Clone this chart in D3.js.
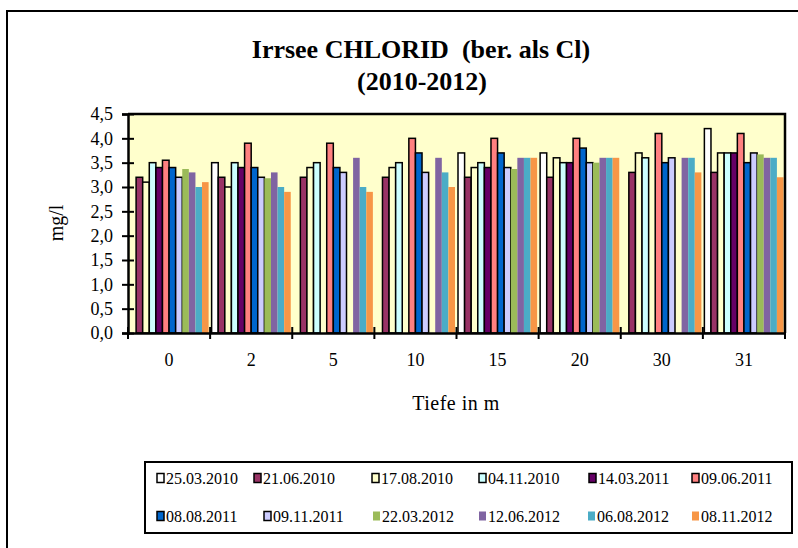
<!DOCTYPE html>
<html>
<head>
<meta charset="utf-8">
<script src="https://cdn.jsdelivr.net/npm/d3@7"></script>
<style>
  body { margin: 0; background: #fff; }
  text { font-family: "Liberation Serif", "Times New Roman", serif; fill: #000; }
</style>
</head>
<body>
<div id="chart"></div>
<script>
// depths (x categories)
const depths = ["0", "2", "5", "10", "15", "20", "30", "31"];

// sampling dates (series)
const dates = ["25.03.2010", "21.06.2010", "17.08.2010", "04.11.2010", "14.03.2011", "09.06.2011",
               "08.08.2011", "09.11.2011", "22.03.2012", "12.06.2012", "06.08.2012", "08.11.2012"];

// chloride mg/l per depth, one array per date (null = no measurement)
const v25032010 = [null, 3.5, null, null, 3.7, 3.7, null, 4.2];
const v21062010 = [3.2, 3.2, 3.2, 3.2, 3.2, 3.2, 3.3, 3.3];
const v17082010 = [3.1, 3.0, 3.4, 3.4, 3.4, 3.6, 3.7, 3.7];
const v04112010 = [3.5, 3.5, 3.5, 3.5, 3.5, 3.5, 3.6, 3.7];
const v14032011 = [3.4, 3.4, null, null, 3.4, 3.5, null, 3.7];
const v09062011 = [3.55, 3.9, 3.9, 4.0, 4.0, 4.0, 4.1, 4.1];
const v08082011 = [3.4, 3.4, 3.4, 3.7, 3.7, 3.8, 3.5, 3.5];
const v09112011 = [3.2, 3.2, 3.3, 3.3, 3.4, 3.5, 3.6, 3.7];
const v22032012 = [3.37, 3.18, null, null, 3.37, 3.5, null, 3.67];
const v12062012 = [3.3, 3.3, 3.6, 3.6, 3.6, 3.6, 3.6, 3.6];
const v06082012 = [3.0, 3.0, 3.0, 3.3, 3.6, 3.6, 3.6, 3.6];
const v08112012 = [3.1, 2.9, 2.9, 3.0, 3.6, 3.6, 3.3, 3.2];

const yTicks = [0, 0.5, 1, 1.5, 2, 2.5, 3, 3.5, 4, 4.5];

const values = [v25032010, v21062010, v17082010, v04112010, v14032011, v09062011,
                v08082011, v09112011, v22032012, v12062012, v06082012, v08112012];

const colors = ["#FFFFFF", "#993366", "#FFFFCC", "#CCFFFF", "#660066", "#FF8080",
                "#0066CC", "#CCCCFF", "#9BBB59", "#8064A2", "#4BACC6", "#F79646"];
// first eight series are drawn with a black outline
const outlined = [true, true, true, true, true, true, true, true, false, false, false, false];

const W = 798, H = 548;
const plot = {left: 128, right: 785, top: 114, bottom: 333};

const svg = d3.select("#chart").append("svg")
  .attr("width", W)
  .attr("height", H);

// outer chart frame
svg.append("rect")
  .attr("x", 7).attr("y", 11)
  .attr("width", 820).attr("height", 580)
  .attr("fill", "none").attr("stroke", "#000").attr("stroke-width", 2);

// title
svg.append("text")
  .attr("x", 421).attr("y", 58)
  .attr("text-anchor", "middle")
  .attr("xml:space", "preserve")
  .style("font-size", "26px").style("font-weight", "bold")
  .text("Irrsee CHLORID  (ber. als Cl)");
svg.append("text")
  .attr("x", 422).attr("y", 90)
  .attr("text-anchor", "middle")
  .style("font-size", "26px").style("font-weight", "bold")
  .text("(2010-2012)");

const x0 = d3.scaleBand()
  .domain(depths)
  .range([plot.left, plot.right])
  .padding(0);

const x1 = d3.scaleBand()
  .domain(d3.range(dates.length))
  .range([1.5, x0.bandwidth() - 1.5])
  .padding(0);

const y = d3.scaleLinear()
  .domain([0, 4.5])
  .range([plot.bottom, plot.top]);

// plot background
svg.append("rect")
  .attr("x", plot.left).attr("y", plot.top)
  .attr("width", plot.right - plot.left).attr("height", plot.bottom - plot.top)
  .attr("fill", "#FFFFCC");

// bars
const groups = svg.append("g")
  .selectAll("g")
  .data(depths)
  .join("g")
    .attr("transform", d => `translate(${x0(d)},0)`);

groups.selectAll("rect")
  .data((d, i) => values.map((s, k) => ({k: k, v: s[i]})).filter(d => d.v != null))
  .join("rect")
    .attr("x", d => x1(d.k))
    .attr("y", d => y(d.v))
    .attr("width", x1.bandwidth())
    .attr("height", d => y(0) - y(d.v))
    .attr("fill", d => colors[d.k])
    .attr("stroke", d => outlined[d.k] ? "#000" : "none")
    .attr("stroke-width", 1.5);

// plot frame (top and right)
svg.append("path")
  .attr("d", `M${plot.left},${plot.top}H${plot.right}V${plot.bottom}`)
  .attr("fill", "none").attr("stroke", "#000").attr("stroke-width", 2.5);

// y axis
const yAxis = svg.append("g")
  .attr("transform", `translate(${plot.left},0)`)
  .call(d3.axisLeft(y).tickValues(yTicks).tickSize(6).tickPadding(9)
        .tickFormat(d => d3.format(".1f")(d).replace(".", ",")));
yAxis.select(".domain").attr("stroke", "#000").attr("stroke-width", 2.5);
yAxis.selectAll(".tick line").attr("x1", -6).attr("x2", 6).attr("stroke-width", 2);
yAxis.selectAll(".tick text")
  .style("font-size", "18px")
  .style("font-family", "Liberation Serif, serif");

// x axis: labels in the middle of each band
const xAxis = svg.append("g")
  .attr("transform", `translate(0,${plot.bottom})`)
  .call(d3.axisBottom(x0).tickSize(0).tickPadding(20));
xAxis.select(".domain").attr("stroke", "#000").attr("stroke-width", 2.5);
xAxis.selectAll(".tick text")
  .style("font-size", "18px")
  .style("font-family", "Liberation Serif, serif");

// crossing tick marks on the band borders
const borders = depths.map(d => x0(d)).concat([plot.right]);
svg.append("g")
  .selectAll("line")
  .data(borders)
  .join("line")
    .attr("x1", d => d).attr("x2", d => d)
    .attr("y1", plot.bottom - 6).attr("y2", plot.bottom + 6)
    .attr("stroke", "#000").attr("stroke-width", 2);

// axis titles
svg.append("text")
  .attr("x", 456).attr("y", 410)
  .attr("text-anchor", "middle")
  .style("font-size", "20px")
  .style("letter-spacing", "0.5px")
  .text("Tiefe in m");

svg.append("text")
  .attr("transform", "translate(63,223) rotate(-90)")
  .attr("text-anchor", "middle")
  .style("font-size", "20px")
  .text("mg/l");

// legend
const legend = svg.append("g");
legend.append("rect")
  .attr("x", 145).attr("y", 462)
  .attr("width", 647).attr("height", 71)
  .attr("fill", "#fff").attr("stroke", "#000").attr("stroke-width", 2);

const legX = [[157, 254, 372, 479, 589, 692], [157, 264, 373, 479, 588, 692]];
const legY = [478, 516];

const items = legend.selectAll("g.item")
  .data(dates)
  .join("g")
    .attr("class", "item")
    .attr("transform", (d, i) => `translate(${legX[Math.floor(i / 6)][i % 6]},${legY[Math.floor(i / 6)]})`);

items.append("rect")
  .attr("x", 0).attr("y", -4.5)
  .attr("width", 7).attr("height", 9)
  .attr("fill", (d, i) => colors[i])
  .attr("stroke", (d, i) => outlined[i] ? "#000" : "none")
  .attr("stroke-width", 1.5);

items.append("text")
  .attr("x", 9).attr("y", 0)
  .attr("dy", "0.35em")
  .style("font-size", "16px")
  .text(d => d);
</script>
</body>
</html>
